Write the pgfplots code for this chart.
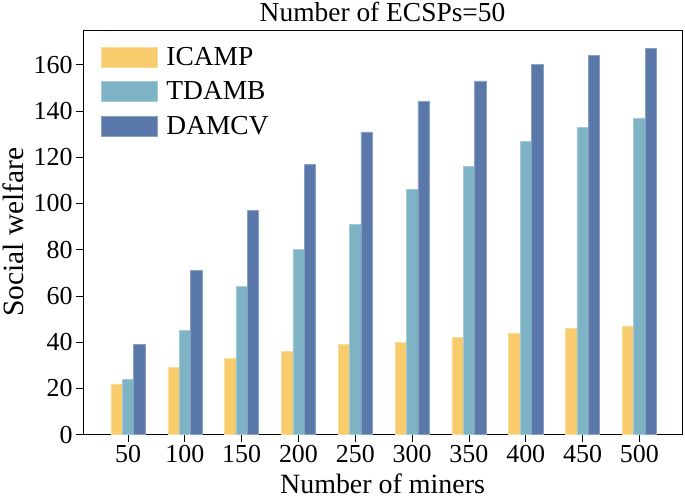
\documentclass[border=0pt]{standalone}
\usepackage{pgfplots}
\pgfplotsset{compat=1.18}
\usepackage{fontspec}
\setmainfont{Liberation Serif}
\definecolor{cI}{HTML}{F8CC6C}
\definecolor{cT}{HTML}{7EB3C6}
\definecolor{cD}{HTML}{5A79AA}
\begin{document}
\begin{tikzpicture}
\begin{axis}[
  width=598bp, height=404bp, scale only axis,
  ybar=0pt, bar width=0.2,
  xmin=-0.79, xmax=9.75, ymin=0, ymax=175,
  xtick={0,1,2,3,4,5,6,7,8,9},
  xticklabels={50,100,150,200,250,300,350,400,450,500},
  ytick={0,20,40,60,80,100,120,140,160},
  tick align=outside, major tick length=7bp,
  xtick pos=bottom, ytick pos=left,
  tick style={black, line width=0.8bp},
  axis line style={line width=1bp},
  /pgf/number format/assume math mode=true,
  ticklabel style={font=\fontsize{26}{30}\selectfont},
  xlabel={Number of miners}, ylabel={Social welfare},
  xlabel style={font=\fontsize{28}{33}\selectfont, at={(axis description cs:0.5,0)}, anchor=base, yshift=-59bp, inner sep=0pt},
  ylabel style={font=\fontsize{29.5}{34}\selectfont, at={(axis description cs:0,0.5)}, anchor=base, yshift=60bp, inner sep=0pt},
  title={Number of ECSPs=50},
  title style={font=\fontsize{27.5}{32}\selectfont, at={(axis description cs:0.5,1)}, anchor=base, yshift=3bp, inner sep=0pt},
  legend image code/.code={\draw[#1] (0bp,-10bp) rectangle (56bp,10bp);},
  legend style={at={(axis description cs:0,1)}, anchor=north west, xshift=17.7bp, yshift=-16.7bp,
    draw=none, fill=none, inner sep=0pt, outer sep=0pt,
    font=\fontsize{27.5}{32}\selectfont, row sep=14bp,
    nodes={inner sep=0pt},
    /tikz/every odd column/.append style={column sep=9bp}},
  legend cell align=left,
  extra description/.code={\path (1,0.5) ++(3bp,0); \path (0,0) ++(-83bp,-65bp); \path (0.5,1) ++(0,30bp);},
]
\addplot[fill=cI, draw=cI!70!white, line width=0.5bp] coordinates {(0,22) (1,29) (2,33) (3,36) (4,39) (5,40) (6,42) (7,44) (8,46) (9,47)};
\addplot[fill=cT, draw=cT!70!white, line width=0.5bp] coordinates {(0,24) (1,45) (2,64) (3,80) (4,91) (5,106) (6,116) (7,127) (8,133) (9,137)};
\addplot[fill=cD, draw=cD!70!white, line width=0.5bp] coordinates {(0,39) (1,71) (2,97) (3,117) (4,131) (5,144) (6,153) (7,160) (8,164) (9,167)};
\legend{ICAMP,TDAMB,DAMCV}
\end{axis}
\end{tikzpicture}
\end{document}
